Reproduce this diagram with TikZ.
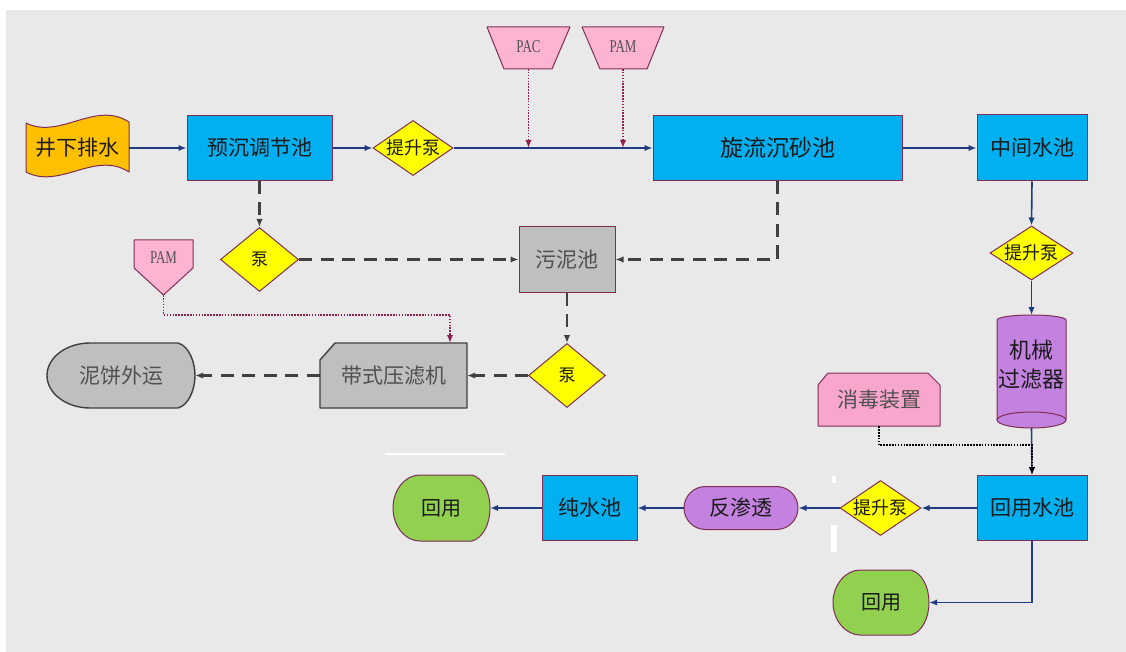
\documentclass[tikz,border=0pt]{standalone}
\usepackage{fontspec}
\usepackage{graphicx}
\setmainfont{Noto Sans CJK SC}
\newfontfamily\serifl{Liberation Serif}
\usetikzlibrary{arrows.meta,shapes.geometric,calc}
\definecolor{bg}{HTML}{E9E9E9}
\definecolor{cblue}{HTML}{00B0F0}
\definecolor{bdr}{HTML}{7E2E55}
\definecolor{cyel}{HTML}{FFFF00}
\definecolor{corg}{HTML}{FFC000}
\definecolor{cpink}{HTML}{FDB4D3}
\definecolor{cpink2}{HTML}{F9A6CF}
\definecolor{cpur}{HTML}{C482E0}
\definecolor{cgray}{HTML}{BFBFBF}
\definecolor{cgreen}{HTML}{92D050}
\definecolor{cnav}{HTML}{1F3C80}
\definecolor{cdash}{HTML}{404040}
\definecolor{cdot}{HTML}{8B2252}
\definecolor{tgray}{HTML}{505050}
\definecolor{tblk}{HTML}{1A1A1A}
\tikzset{
  base/.style={draw=bdr, line width=1pt, inner sep=0pt, align=center, text=tblk, font=\fontsize{21}{21}\selectfont},
  bluebox/.style={base, rectangle, fill=cblue},
  graybox/.style={base, rectangle, fill=cgray, text=tgray},
  dia/.style={base, diamond, fill=cyel},
  txt/.style={inner sep=0pt, align=center, text=tblk, font=\fontsize{21}{21}\selectfont},
  ghost/.style={inner sep=0pt, draw=none, rectangle},
  shp/.style={draw=bdr, line width=1pt, line join=round},
  nav/.style={draw=cnav, line width=1.6pt, -{Latex[length=8pt,width=6.5pt]}},
  dsh/.style={draw=cdash, line width=2.4pt, dash pattern=on 13pt off 8.5pt, -{Latex[length=8pt,width=6.5pt]}},
  dotm/.style={draw=cdot, line width=1.6pt, dash pattern=on 1.6pt off 1.3pt, -{Latex[length=8pt,width=6.5pt]}},
  dotk/.style={draw=black, line width=1.6pt, dash pattern=on 1.6pt off 1.3pt, -{Latex[length=8pt,width=6.5pt]}},
  chem/.style={inner sep=0pt, text=tgray, font=\serifl\fontsize{18}{18}\selectfont},
}
\begin{document}
\begin{tikzpicture}[x=1pt,y=-1pt]
\useasboundingbox (0,0) rectangle (1126,652);
\fill[white] (0,0) rectangle (1126,652);
\fill[bg] (6,10) rectangle (1126,652);
% white marks of the background
\draw[white, line width=1.5pt] (385,454) -- (505,454);
\fill[white] (832,476) rectangle (836,483);
\fill[white] (831,525) rectangle (837,552);

% ---- top row ----
\fill[corg] (26,123) .. controls (60,140) and (95,100) .. (129,122) -- (129,172) .. controls (95,150) and (60,190) .. (26,172) -- cycle;
\draw[shp] (26,123) .. controls (60,140) and (95,100) .. (129,122) -- (129,172) .. controls (95,150) and (60,190) .. (26,172) -- cycle;
\node[ghost, minimum width=103, minimum height=50, text=tblk, font=\fontsize{21}{21}\selectfont] (jx) at (77.5,148) {井下排水};

\node[bluebox, minimum width=145, minimum height=65] (ycz) at (259.5,148) {预沉调节池};
\node[dia, minimum width=80, minimum height=55] (t1) at (413,148) {};
\node[txt, font=\fontsize{18}{18}\selectfont] (t1t) at (t1) {提升泵};
\node[bluebox, minimum width=249, minimum height=65, font=\fontsize{23}{23}\selectfont] (xl) at (777.5,148) {旋流沉砂池};
\node[bluebox, minimum width=110, minimum height=66] (zj) at (1032,148) {中间水池};

% PAC / PAM trapezoids
\draw[shp, fill=cpink] (487,27) -- (570,27) -- (552,69) -- (504,69) -- cycle;
\node[chem] (pac) at (528.5,47) {\scalebox{0.72}[1]{PAC}};
\coordinate (pacb) at (528.5,69);
\coordinate (pacin) at (528.5,148);
\draw[shp, fill=cpink] (582,27) -- (664,27) -- (647,69) -- (600,69) -- cycle;
\node[chem] (pam) at (623,47) {\scalebox{0.72}[1]{PAM}};
\coordinate (pamb) at (623,69);
\coordinate (pamin) at (623,148);

% ---- sludge branch ----
\node[dia, minimum width=78, minimum height=64] (b1) at (259.5,259.5) {};
\node[txt, font=\fontsize{17}{17}\selectfont] (b1t) at (b1) {泵};
\node[graybox, minimum width=96, minimum height=65] (wn) at (567,259.5) {污泥池};
\node[dia, minimum width=77, minimum height=64] (b2) at (567,375.5) {};
\node[txt, font=\fontsize{17}{17}\selectfont] (b2t) at (b2) {泵};

\draw[draw=cdash, line width=1.4pt, fill=cgray, line join=round] (335,343) -- (467,343) -- (467,408) -- (320,408) -- (320,360) -- cycle;
\node[ghost, minimum width=147, minimum height=65, text=tgray, font=\fontsize{21}{21}\selectfont] (dy) at (393.5,375.5) {带式压滤机};
\coordinate (dyin) at (450,343);

\draw[draw=cdash, line width=1.4pt, fill=cgray] (90,343) -- (178,343) .. controls (189,346) and (195,362) .. (195,375.5) .. controls (195,389) and (189,405) .. (178,408) -- (90,408) .. controls (66.3,408) and (47,393.4) .. (47,375.5) .. controls (47,357.6) and (66.3,343) .. (90,343) -- cycle;
\node[ghost, minimum width=148, minimum height=65, text=tgray, font=\fontsize{21}{21}\selectfont] (nb) at (121,375.5) {泥饼外运};

\draw[shp, fill=cpink] (134,240) -- (193,240) -- (193,268) -- (163.5,295) -- (134,268) -- cycle;
\node[chem] (pam2) at (163.5,258) {\scalebox{0.72}[1]{PAM}};
\coordinate (pam2b) at (163.5,295);

% ---- right column ----
\node[dia, minimum width=83, minimum height=54] (t2) at (1031.5,253) {};
\node[txt, font=\fontsize{18}{18}\selectfont] (t2t) at (t2) {提升泵};

\fill[cpur] (997,320) .. controls (997,317.2) and (1012.5,315) .. (1031.5,315) .. controls (1050.5,315) and (1066,317.2) .. (1066,320) -- (1066,420) -- (997,420) -- cycle;
\draw[shp] (997,420) -- (997,320) .. controls (997,317.2) and (1012.5,315) .. (1031.5,315) .. controls (1050.5,315) and (1066,317.2) .. (1066,320) -- (1066,420);
\draw[shp, fill=cpur] (1031.5,420) ellipse [x radius=34.5, y radius=8];
\node[txt, font=\fontsize{22}{29}\selectfont] (cyl) at (1031.5,364.5) {机械\\过滤器};
\coordinate (cyltop) at (1031.5,315);
\coordinate (cylbot) at (1031.5,428);

\draw[shp, fill=cpink2] (828,373) -- (928,373) -- (940,385) -- (940,426) -- (818,426) -- (818,385) -- cycle;
\node[ghost, minimum width=122, minimum height=53, text=tgray, font=\fontsize{21}{21}\selectfont] (xd) at (879,399.5) {消毒装置};

% ---- bottom row ----
\node[bluebox, minimum width=110, minimum height=65] (hy) at (1032,508) {回用水池};
\node[dia, minimum width=81, minimum height=55] (t3) at (880.5,508) {};
\node[txt, font=\fontsize{18}{18}\selectfont] (t3t) at (t3) {提升泵};
\node[base, rectangle, rounded corners=21.5pt, fill=cpur, minimum width=114, minimum height=43] (fst) at (741,508) {反渗透};
\node[bluebox, minimum width=95, minimum height=65] (cs) at (589.5,508) {纯水池};

\draw[shp, fill=cgreen] (420,475) -- (472,475) .. controls (483,478) and (490,492) .. (490,508) .. controls (490,524) and (483,538) .. (472,541) -- (420,541) .. controls (405.1,541) and (393,526.2) .. (393,508) .. controls (393,489.8) and (405.1,475) .. (420,475) -- cycle;
\node[ghost, minimum width=97, minimum height=66, text=tblk, font=\fontsize{20}{20}\selectfont] (h1) at (441.5,508) {回用};

\draw[shp, fill=cgreen] (860,570) -- (911,570) .. controls (922,573) and (929,587) .. (929,602.5) .. controls (929,618) and (922,632) .. (911,635) -- (860,635) .. controls (845.9,635) and (833,620.4) .. (833,602.5) .. controls (833,584.6) and (845.9,570) .. (860,570) -- cycle;
\node[ghost, minimum width=96, minimum height=65, text=tblk, font=\fontsize{20}{20}\selectfont] (h2) at (881,602.5) {回用};

% ---- connectors ----
\draw[nav] (jx.east) -- (ycz.west);
\draw[nav] (ycz.east) -- (t1.west);
\draw[nav] (t1.east) -- (xl.west);
\draw[nav] (xl.east) -- (zj.west);
\draw[dotm] (pacb) -- (pacin);
\draw[dotm] (pamb) -- (pamin);

\draw[dsh] (ycz.south) -- (b1.north);
\draw[dsh] (b1.east) -- (wn.west);
\draw[dsh] (xl.south) |- (wn.east);
\draw[dsh] (wn.south) -- (b2.north);
\draw[dsh] (b2.west) -- (dy.east);
\draw[dsh] (dy.west) -- (nb.east);
\draw[dotm] (pam2b) -- ++(0,20) -| (dyin);

\draw[nav] (zj.south) -- (t2.north);
\draw[nav] (t2.south) -- (cyltop);
\draw[nav] (cylbot) -- (hy.north);
\draw[dotk] (xd.south) -- ++(0,19) -| (hy.north);

\draw[nav] (hy.west) -- (t3.east);
\draw[nav] (t3.west) -- (fst.east);
\draw[nav] (fst.west) -- (cs.east);
\draw[nav] (cs.west) -- (h1.east);
\draw[nav] (hy.south) |- (h2.east);
\end{tikzpicture}
\end{document}
